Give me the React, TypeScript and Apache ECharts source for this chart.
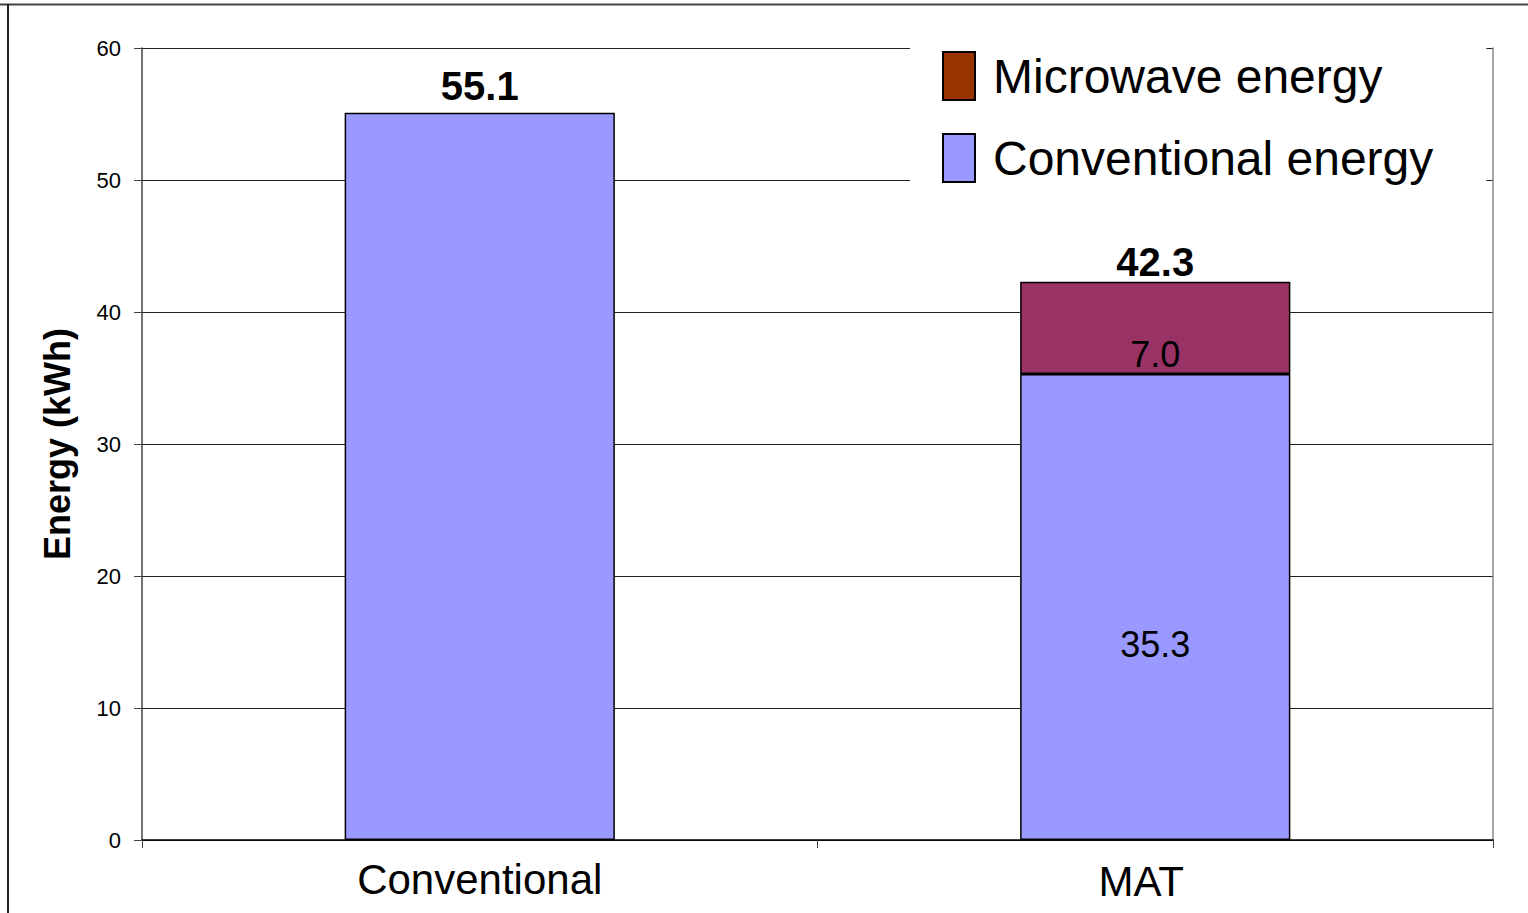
import React, { useEffect, useRef } from "react";
import * as echarts from "echarts";

const categories = ["Conventional", "MAT"];
const conventionalEnergy = [55.1, 35.3];
const microwaveEnergy: (number | string)[] = ["-", 7.0];
const totals = [55.1, 42.3];
const yTicks = { min: 0, max: 60, interval: 10 };

const FONT = "'Liberation Sans', Arial, sans-serif";

export default function App() {
  const ref = useRef<HTMLDivElement>(null);
  useEffect(() => {
    document.body.style.margin = "0";
    const chart = echarts.init(ref.current!, null, { renderer: "svg" });
    chart.setOption({
      animation: false,
      textStyle: { fontFamily: FONT, color: "#000" },
      grid: { left: 142, right: 35, top: 48, bottom: 73, containLabel: false },
      legend: {
        orient: "vertical",
        left: 910,
        top: 40,
        backgroundColor: "#fff",
        padding: [11, 53, 4, 32],
        itemWidth: 32,
        itemHeight: 48,
        itemGap: 32,
        icon: "rect",
        textStyle: { fontSize: 48, color: "#000", fontFamily: FONT, padding: [0, 0, 0, 13] },
        itemStyle: { borderColor: "#000", borderWidth: 2 },
        data: [
          { name: "Microwave energy", itemStyle: { color: "#993300", borderColor: "#000", borderWidth: 2 } },
          { name: "Conventional energy", itemStyle: { color: "#9999FF", borderColor: "#000", borderWidth: 2 } },
        ],
      },
      xAxis: {
        type: "category",
        data: categories.map((c, i) =>
          i === 1 ? { value: c, textStyle: { padding: [2, 28, 0, 0] } } : c
        ),
        axisLine: { lineStyle: { color: "#000", width: 1.5 } },
        axisTick: { show: true, length: 8, lineStyle: { color: "#444" } },
        axisLabel: { fontSize: 42, color: "#000", margin: 18, fontFamily: FONT },
      },
      yAxis: [
        {
          type: "value",
          min: yTicks.min,
          max: yTicks.max,
          interval: yTicks.interval,
          name: "Energy (kWh)",
          nameLocation: "middle",
          nameGap: 67,
          nameTextStyle: { fontSize: 36, fontWeight: "bold", color: "#000", fontFamily: FONT },
          axisLine: { show: true, lineStyle: { color: "#444", width: 1.5 } },
          axisTick: { show: true, length: 8, lineStyle: { color: "#444" } },
          axisLabel: { fontSize: 22, color: "#000", margin: 21, fontFamily: FONT },
          splitLine: { show: true, lineStyle: { color: "#222", width: 1 } },
        },
        {
          type: "value",
          min: yTicks.min,
          max: yTicks.max,
          interval: yTicks.interval,
          position: "right",
          axisLine: { show: true, lineStyle: { color: "#888", width: 1.5 } },
          axisTick: { show: false },
          axisLabel: { show: false },
          splitLine: { show: false },
        },
      ],
      series: [
        {
          name: "Conventional energy",
          type: "bar",
          stack: "e",
          barWidth: "40%",
          data: conventionalEnergy.map((v, i) => ({
            value: v,
            label:
              i === 0
                ? { show: false }
                : { show: true, position: "inside", offset: [0, 37], fontSize: 36, color: "#000", fontFamily: FONT },
          })),
          itemStyle: { color: "#9999FF", borderColor: "#000", borderWidth: 1.5 },
        },
        {
          name: "Microwave energy",
          type: "bar",
          stack: "e",
          data: microwaveEnergy,
          itemStyle: { color: "#993366", borderColor: "#000", borderWidth: 1.5 },
          label: {
            show: true,
            position: "insideBottom",
            distance: 2,
            fontSize: 36,
            color: "#000",
            fontFamily: FONT,
            formatter: (p: any) => Number(p.value).toFixed(1),
          },
        },
        {
          name: "Total",
          type: "scatter",
          symbolSize: 0,
          itemStyle: { opacity: 1 },
          data: totals.map((v, i) => ({ value: v, label: { distance: i === 0 ? 7 : 0 } })),
          silent: true,
          label: {
            show: true,
            position: "top",
            fontSize: 40,
            fontWeight: "bold",
            color: "#000",
            fontFamily: FONT,
            formatter: (p: any) => Number(p.value).toFixed(1),
          },
        },
      ],
      graphic: [
        { type: "line", shape: { x1: 0, y1: 4.5, x2: 1528, y2: 4.5 }, style: { stroke: "#444", lineWidth: 2 } },
        { type: "line", shape: { x1: 8, y1: 4, x2: 8, y2: 913 }, style: { stroke: "#222", lineWidth: 2 } },
      ],
    });
    return () => chart.dispose();
  }, []);
  return <div ref={ref} style={{ width: 1528, height: 913 }} />;
}
